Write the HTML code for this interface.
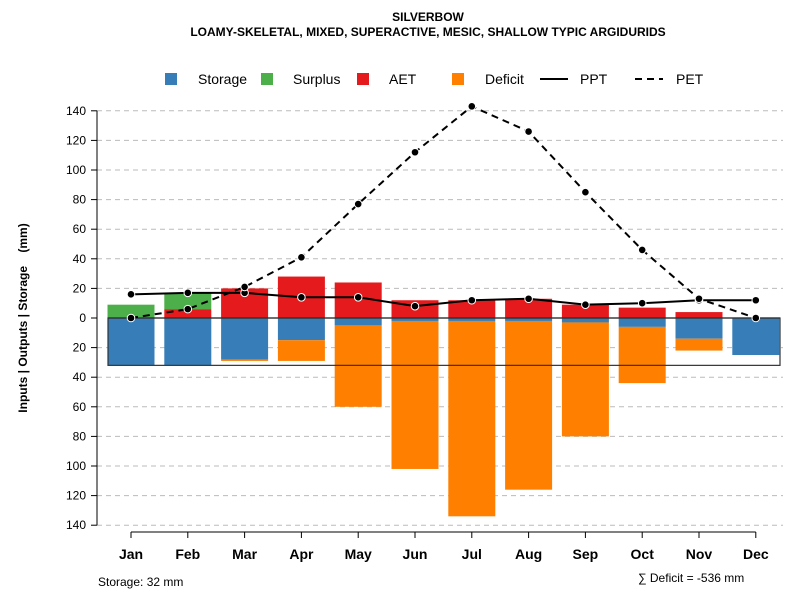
<!DOCTYPE html>
<html><head><meta charset="utf-8"><style>
body{margin:0;background:#fff;}
svg{display:block;font-family:"Liberation Sans",Arial,sans-serif;}
</style></head><body>
<svg id="chart" width="800" height="600">
<text x="428" y="21" text-anchor="middle" font-size="12" font-weight="bold">SILVERBOW</text>
<text x="428" y="36" text-anchor="middle" font-size="12" font-weight="bold">LOAMY-SKELETAL, MIXED, SUPERACTIVE, MESIC, SHALLOW TYPIC ARGIDURIDS</text>
<g>
<rect x="165" y="73" width="12" height="12" fill="#377EB8"/>
<text x="198" y="84" font-size="14">Storage</text>
<rect x="261" y="73" width="12" height="12" fill="#4DAF4A"/>
<text x="293" y="84" font-size="14">Surplus</text>
<rect x="357" y="73" width="12" height="12" fill="#E41A1C"/>
<text x="389" y="84" font-size="14">AET</text>
<rect x="452" y="73" width="12" height="12" fill="#FF7F00"/>
<text x="485" y="84" font-size="14">Deficit</text>
<line x1="540" y1="79" x2="568" y2="79" stroke="#000" stroke-width="2"/>
<text x="580" y="84" font-size="14">PPT</text>
<line x1="635" y1="79" x2="663" y2="79" stroke="#000" stroke-width="2" stroke-dasharray="7,5"/>
<text x="676" y="84" font-size="14">PET</text>
</g>
<text transform="translate(27,318) rotate(-90)" text-anchor="middle" font-size="12" font-weight="bold">Inputs | Outputs | Storage&#160;&#160;&#160;&#160;(mm)</text>
<text x="98" y="586" font-size="12">Storage: 32 mm</text>
<text x="638" y="582" font-size="12">∑ Deficit = -536 mm</text>
<g id="grid"></g><g id="bars"></g><g id="axes"></g><g id="lines"></g>
</svg>
<script>
const months=["Jan","Feb","Mar","Apr","May","Jun","Jul","Aug","Sep","Oct","Nov","Dec"];
const storage=[32,32,28,15,5,2,2,2,3,6,14,25];
const deficit=[0,0,1,14,55,100,132,114,77,38,8,0];
const aet=[0,6,20,28,24,12,12,13,9,7,4,0];
const surplus=[9,11,0,0,0,0,0,0,0,0,0,0];
const ppt=[16,17,17,14,14,8,12,13,9,10,12,12];
const pet=[0,6,21,41,77,112,143,126,85,46,13,0];
const yTicks=[140,120,100,80,60,40,20,0,-20,-40,-60,-80,-100,-120,-140];
const totalStorage=32;
const NS="http://www.w3.org/2000/svg";
const y=v=>318-v*1.48;
const x=i=>131+i*56.8;
const bw=47;
function mk(tag,attrs,parent){const e=document.createElementNS(NS,tag);for(const k in attrs)e.setAttribute(k,attrs[k]);document.getElementById(parent).appendChild(e);return e;}
yTicks.forEach(t=>{
 if(t!==0){const g=mk("line",{x1:97,x2:783,y1:y(t),y2:y(t),stroke:"#bbb","stroke-dasharray":"5,4"},"grid");
 
 }
 const tk=mk("line",{x1:91,x2:97,y1:y(t),y2:y(t),stroke:"#000"},"axes");
 
 
 const lb=mk("text",{x:86,y:y(t)+4,"text-anchor":"end","font-size":12},"axes");lb.textContent=Math.abs(t);
 
 
});
const ya=mk("line",{x1:97,x2:97,y1:y(140),y2:y(-140),stroke:"#000"},"axes");


const xa=mk("line",{x1:x(0),x2:x(11),y1:532,y2:532,stroke:"#000"},"axes");


months.forEach((m,i)=>{
 const cx=x(i),l=cx-bw/2;
 const r=(v0,v1,c,n)=>{if(v1===v0)return;const e=mk("rect",{x:l,width:bw,y:Math.min(y(v0),y(v1)),height:Math.abs(y(v1)-y(v0)),fill:c},"bars");
  
  };
 r(0,-storage[i],"#377EB8","storage-bar-"+m.toLowerCase());
 r(-storage[i],-storage[i]-deficit[i],"#FF7F00","deficit-bar-"+m.toLowerCase());
 r(0,aet[i],"#E41A1C","aet-bar-"+m.toLowerCase());
 r(aet[i],aet[i]+surplus[i],"#4DAF4A","surplus-bar-"+m.toLowerCase());
 const tk=mk("line",{x1:cx,x2:cx,y1:532,y2:538,stroke:"#000"},"axes");
 
 
 const lb=mk("text",{x:cx,y:559,"text-anchor":"middle","font-size":14,"font-weight":"bold"},"axes");lb.textContent=m;
 
 
});
const zl=mk("line",{x1:108,x2:780,y1:y(0),y2:y(0),stroke:"#222","stroke-width":1.2},"bars");


const sb=mk("rect",{x:108,width:672,y:y(0),height:y(-totalStorage)-y(0),fill:"none",stroke:"#333","stroke-width":1.2},"bars");


function series(vals,dash,name){
 const p=mk("polyline",{points:vals.map((v,i)=>x(i)+","+y(v)).join(" "),fill:"none",stroke:"#000","stroke-width":2,"stroke-dasharray":dash},"lines");
 
 
 vals.forEach((v,i)=>{const c=mk("circle",{cx:x(i),cy:y(v),r:3.8,fill:"#000",stroke:"#fff","stroke-width":1},"lines");
  
  });
}
series(ppt,"none","ppt");
series(pet,"7,5","pet");
</script>
</body></html>
